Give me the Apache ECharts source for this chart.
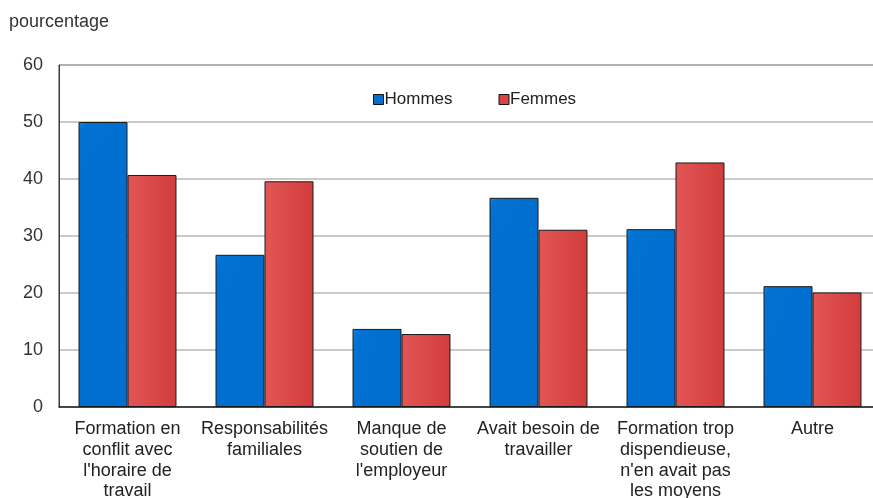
<!DOCTYPE html>
<html>
<head>
<meta charset="utf-8">
<script src="https://cdn.jsdelivr.net/npm/echarts@6/dist/echarts.min.js"></script>
<style>
  html, body { margin: 0; padding: 0; background: #fff; }
  #chart { width: 873px; height: 498px; }
</style>
</head>
<body>
<div id="chart"></div>
<script>
// Raisons de ne pas suivre une formation, selon le sexe
const categories = [
  "Formation en\nconflit avec\nl'horaire de\ntravail",
  "Responsabilités\nfamiliales",
  "Manque de\nsoutien de\nl'employeur",
  "Avait besoin de\ntravailler",
  "Formation trop\ndispendieuse,\nn'en avait pas\nles moyens",
  "Autre"
];
const hommes = [50.0, 26.7, 13.7, 36.7, 31.2, 21.2];
const femmes = [40.7, 39.6, 12.8, 31.1, 42.9, 20.1];
const yTicks = [0, 10, 20, 30, 40, 50, 60];

const font = "'Liberation Sans', Arial, sans-serif";

const blueFill = new echarts.graphic.LinearGradient(0, 0, 1, 0.15, [
  { offset: 0, color: '#1a88e6' },
  { offset: 0.12, color: '#0072d2' },
  { offset: 1, color: '#006fcf' }
]);
const redFill = new echarts.graphic.LinearGradient(0, 0, 1, 0, [
  { offset: 0, color: '#e25656' },
  { offset: 1, color: '#d23c3c' }
]);

const chart = echarts.init(document.getElementById('chart'), null, { renderer: 'canvas' });
chart.setOption({
  animation: false,
  backgroundColor: '#fff',
  textStyle: { fontFamily: font },
  title: {
    text: 'pourcentage',
    left: 4,
    top: 8,
    textStyle: { fontFamily: font, fontSize: 18, fontWeight: 'normal', color: '#333' }
  },
  legend: {
    top: 86,
    left: 368,
    itemWidth: 10,
    itemHeight: 10,
    itemGap: 46,
    icon: 'rect',
    textStyle: { fontFamily: font, fontSize: 17, color: '#222', padding: [0, 0, 0, -4] },
    data: [
      { name: 'Hommes', itemStyle: { color: '#0070d0', borderColor: '#111', borderWidth: 1 } },
      { name: 'Femmes', itemStyle: { color: '#d94444', borderColor: '#111', borderWidth: 1 } }
    ]
  },
  grid: {
    left: 59,
    top: 65,
    width: 822,
    height: 342,
    show: true,
    borderColor: '#3a3a3a',
    borderWidth: 1,
    containLabel: false,
    outerBoundsMode: 'none'
  },
  xAxis: {
    type: 'category',
    data: categories,
    axisLine: { lineStyle: { color: '#222', width: 1.5 } },
    axisTick: { show: false },
    axisLabel: {
      fontFamily: font,
      fontSize: 18,
      color: '#222',
      lineHeight: 20.7,
      margin: 12,
      interval: 0
    }
  },
  yAxis: {
    type: 'value',
    min: yTicks[0],
    max: yTicks[yTicks.length - 1],
    interval: 10,
    axisLine: { show: true, lineStyle: { color: '#3a3a3a', width: 1 } },
    axisTick: { show: false },
    axisLabel: { fontFamily: font, fontSize: 18, color: '#333', margin: 16 },
    splitLine: { lineStyle: { color: '#b8b8b8', width: 1.5 } }
  },
  series: [
    {
      name: 'Hommes',
      type: 'bar',
      data: hommes,
      barGap: '0%',
      barCategoryGap: '28.5%',
      itemStyle: { color: blueFill, borderColor: '#1a1a1a', borderWidth: 1 }
    },
    {
      name: 'Femmes',
      type: 'bar',
      data: femmes,
      itemStyle: { color: redFill, borderColor: '#1a1a1a', borderWidth: 1 }
    }
  ]
});
</script>
</body>
</html>
